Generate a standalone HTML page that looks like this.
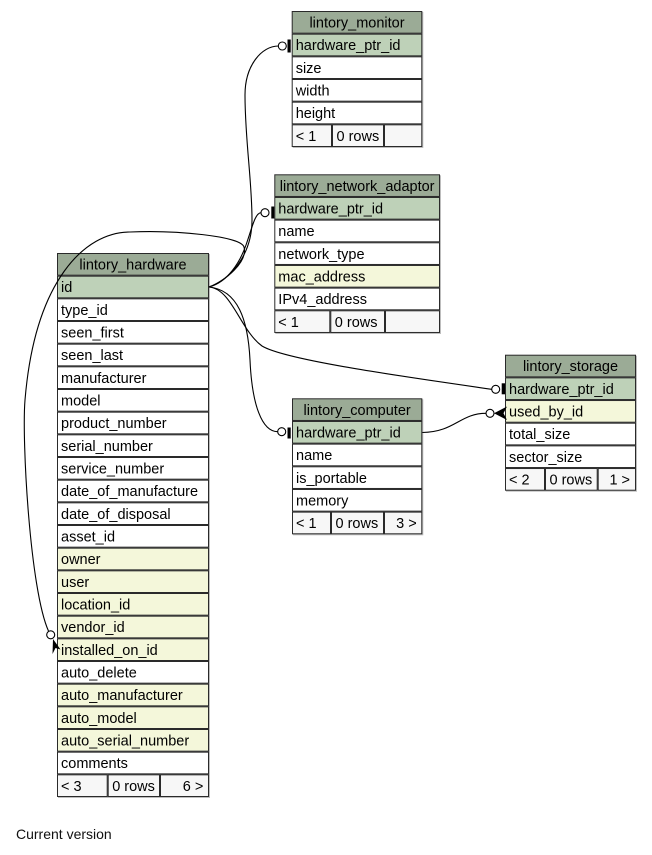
<!DOCTYPE html>
<html><head><meta charset="utf-8">
<style>
html,body{margin:0;padding:0;background:#fff;}
svg{display:block;}
.t{font-family:"Liberation Sans",Arial,Helvetica,sans-serif;font-size:14.5px;fill:#000;}
.c{stroke:#2a2a2a;stroke-width:1;}
.e{fill:none;stroke:#000;stroke-width:1.1;}
</style></head>
<body>
<svg width="652" height="855" viewBox="0 0 652 855" xmlns="http://www.w3.org/2000/svg">

<!-- lintory_hardware -->
<g transform="translate(57,253)">
<rect x="1" y="1" width="152" height="544" fill="#bdbdbd"/>
<rect class="c" x="0.5" y="0.5" width="151" height="21.67" fill="#9bab96"/>
<text class="t" x="76" y="16.5" text-anchor="middle">lintory_hardware</text>
<rect class="c" x="0.5" y="23.17" width="151" height="21.67" fill="#bed1b8"/><text class="t" x="4" y="39.17">id</text>
<rect class="c" x="0.5" y="45.83" width="151" height="21.67" fill="#fff"/><text class="t" x="4" y="61.83">type_id</text>
<rect class="c" x="0.5" y="68.5" width="151" height="21.67" fill="#fff"/><text class="t" x="4" y="84.5">seen_first</text>
<rect class="c" x="0.5" y="91.17" width="151" height="21.67" fill="#fff"/><text class="t" x="4" y="107.17">seen_last</text>
<rect class="c" x="0.5" y="113.83" width="151" height="21.67" fill="#fff"/><text class="t" x="4" y="129.83">manufacturer</text>
<rect class="c" x="0.5" y="136.5" width="151" height="21.67" fill="#fff"/><text class="t" x="4" y="152.5">model</text>
<rect class="c" x="0.5" y="159.17" width="151" height="21.67" fill="#fff"/><text class="t" x="4" y="175.17">product_number</text>
<rect class="c" x="0.5" y="181.83" width="151" height="21.67" fill="#fff"/><text class="t" x="4" y="197.83">serial_number</text>
<rect class="c" x="0.5" y="204.5" width="151" height="21.67" fill="#fff"/><text class="t" x="4" y="220.5">service_number</text>
<rect class="c" x="0.5" y="227.17" width="151" height="21.67" fill="#fff"/><text class="t" x="4" y="243.17">date_of_manufacture</text>
<rect class="c" x="0.5" y="249.83" width="151" height="21.67" fill="#fff"/><text class="t" x="4" y="265.83">date_of_disposal</text>
<rect class="c" x="0.5" y="272.5" width="151" height="21.67" fill="#fff"/><text class="t" x="4" y="288.5">asset_id</text>
<rect class="c" x="0.5" y="295.17" width="151" height="21.67" fill="#f4f7da"/><text class="t" x="4" y="311.17">owner</text>
<rect class="c" x="0.5" y="317.83" width="151" height="21.67" fill="#f4f7da"/><text class="t" x="4" y="333.83">user</text>
<rect class="c" x="0.5" y="340.5" width="151" height="21.67" fill="#f4f7da"/><text class="t" x="4" y="356.5">location_id</text>
<rect class="c" x="0.5" y="363.17" width="151" height="21.67" fill="#f4f7da"/><text class="t" x="4" y="379.17">vendor_id</text>
<rect class="c" x="0.5" y="385.83" width="151" height="21.67" fill="#f4f7da"/><text class="t" x="4" y="401.83">installed_on_id</text>
<rect class="c" x="0.5" y="408.5" width="151" height="21.67" fill="#fff"/><text class="t" x="4" y="424.5">auto_delete</text>
<rect class="c" x="0.5" y="431.17" width="151" height="21.67" fill="#f4f7da"/><text class="t" x="4" y="447.17">auto_manufacturer</text>
<rect class="c" x="0.5" y="453.83" width="151" height="21.67" fill="#f4f7da"/><text class="t" x="4" y="469.83">auto_model</text>
<rect class="c" x="0.5" y="476.5" width="151" height="21.67" fill="#f4f7da"/><text class="t" x="4" y="492.5">auto_serial_number</text>
<rect class="c" x="0.5" y="499.17" width="151" height="21.67" fill="#fff"/><text class="t" x="4" y="515.17">comments</text>
<rect class="c" x="0.5" y="521.83" width="49.7" height="21.67" fill="#f7f7f7"/>
<rect class="c" x="51.2" y="521.83" width="51.3" height="21.67" fill="#f7f7f7"/>
<rect class="c" x="103.5" y="521.83" width="48" height="21.67" fill="#f7f7f7"/>
<text class="t" x="4" y="537.83">&lt; 3</text>
<text class="t" x="55.2" y="537.83">0 rows</text>
<text class="t" x="146.3" y="537.83" text-anchor="end">6 &gt;</text>
</g>

<!-- lintory_monitor -->
<g transform="translate(291.7,11)">
<rect x="1" y="1" width="130.6" height="136" fill="#bdbdbd"/>
<rect class="c" x="0.5" y="0.5" width="129.6" height="21.67" fill="#9bab96"/>
<text class="t" x="65.3" y="16.5" text-anchor="middle">lintory_monitor</text>
<rect class="c" x="0.5" y="23.17" width="129.6" height="21.67" fill="#bed1b8"/><text class="t" x="4" y="39.17">hardware_ptr_id</text>
<rect class="c" x="0.5" y="45.83" width="129.6" height="21.67" fill="#fff"/><text class="t" x="4" y="61.83">size</text>
<rect class="c" x="0.5" y="68.5" width="129.6" height="21.67" fill="#fff"/><text class="t" x="4" y="84.5">width</text>
<rect class="c" x="0.5" y="91.17" width="129.6" height="21.67" fill="#fff"/><text class="t" x="4" y="107.17">height</text>
<rect class="c" x="0.5" y="113.83" width="39.3" height="21.67" fill="#f7f7f7"/>
<rect class="c" x="40.8" y="113.83" width="51" height="21.67" fill="#f7f7f7"/>
<rect class="c" x="92.8" y="113.83" width="37.3" height="21.67" fill="#f7f7f7"/>
<text class="t" x="4" y="129.83">&lt; 1</text>
<text class="t" x="44.8" y="129.83">0 rows</text>
</g>

<!-- lintory_network_adaptor -->
<g transform="translate(274.3,174.3)">
<rect x="1" y="1" width="165.7" height="158.67" fill="#bdbdbd"/>
<rect class="c" x="0.5" y="0.5" width="164.7" height="21.67" fill="#9bab96"/>
<text class="t" x="82.85" y="16.5" text-anchor="middle">lintory_network_adaptor</text>
<rect class="c" x="0.5" y="23.17" width="164.7" height="21.67" fill="#bed1b8"/><text class="t" x="4" y="39.17">hardware_ptr_id</text>
<rect class="c" x="0.5" y="45.83" width="164.7" height="21.67" fill="#fff"/><text class="t" x="4" y="61.83">name</text>
<rect class="c" x="0.5" y="68.5" width="164.7" height="21.67" fill="#fff"/><text class="t" x="4" y="84.5">network_type</text>
<rect class="c" x="0.5" y="91.17" width="164.7" height="21.67" fill="#f4f7da"/><text class="t" x="4" y="107.17">mac_address</text>
<rect class="c" x="0.5" y="113.83" width="164.7" height="21.67" fill="#fff"/><text class="t" x="4" y="129.83">IPv4_address</text>
<rect class="c" x="0.5" y="136.5" width="55" height="21.67" fill="#f7f7f7"/>
<rect class="c" x="56.5" y="136.5" width="53.7" height="21.67" fill="#f7f7f7"/>
<rect class="c" x="111.2" y="136.5" width="54" height="21.67" fill="#f7f7f7"/>
<text class="t" x="4" y="152.5">&lt; 1</text>
<text class="t" x="60.5" y="152.5">0 rows</text>
</g>

<!-- lintory_storage -->
<g transform="translate(505,354.7)">
<rect x="1" y="1" width="131" height="136" fill="#bdbdbd"/>
<rect class="c" x="0.5" y="0.5" width="130" height="21.67" fill="#9bab96"/>
<text class="t" x="65.5" y="16.5" text-anchor="middle">lintory_storage</text>
<rect class="c" x="0.5" y="23.17" width="130" height="21.67" fill="#bed1b8"/><text class="t" x="4" y="39.17">hardware_ptr_id</text>
<rect class="c" x="0.5" y="45.83" width="130" height="21.67" fill="#f4f7da"/><text class="t" x="4" y="61.83">used_by_id</text>
<rect class="c" x="0.5" y="68.5" width="130" height="21.67" fill="#fff"/><text class="t" x="4" y="84.5">total_size</text>
<rect class="c" x="0.5" y="91.17" width="130" height="21.67" fill="#fff"/><text class="t" x="4" y="107.17">sector_size</text>
<rect class="c" x="0.5" y="113.83" width="39" height="21.67" fill="#f7f7f7"/>
<rect class="c" x="40.5" y="113.83" width="51.7" height="21.67" fill="#f7f7f7"/>
<rect class="c" x="93.2" y="113.83" width="37.3" height="21.67" fill="#f7f7f7"/>
<text class="t" x="4" y="129.83">&lt; 2</text>
<text class="t" x="44.5" y="129.83">0 rows</text>
<text class="t" x="125" y="129.83" text-anchor="end">1 &gt;</text>
</g>

<!-- lintory_computer -->
<g transform="translate(292,398.3)">
<rect x="1" y="1" width="130.3" height="136" fill="#bdbdbd"/>
<rect class="c" x="0.5" y="0.5" width="129.3" height="21.67" fill="#9bab96"/>
<text class="t" x="65.15" y="16.5" text-anchor="middle">lintory_computer</text>
<rect class="c" x="0.5" y="23.17" width="129.3" height="21.67" fill="#bed1b8"/><text class="t" x="4" y="39.17">hardware_ptr_id</text>
<rect class="c" x="0.5" y="45.83" width="129.3" height="21.67" fill="#fff"/><text class="t" x="4" y="61.83">name</text>
<rect class="c" x="0.5" y="68.5" width="129.3" height="21.67" fill="#fff"/><text class="t" x="4" y="84.5">is_portable</text>
<rect class="c" x="0.5" y="91.17" width="129.3" height="21.67" fill="#fff"/><text class="t" x="4" y="107.17">memory</text>
<rect class="c" x="0.5" y="113.83" width="38" height="21.67" fill="#f7f7f7"/>
<rect class="c" x="39.5" y="113.83" width="52" height="21.67" fill="#f7f7f7"/>
<rect class="c" x="92.5" y="113.83" width="37.3" height="21.67" fill="#f7f7f7"/>
<text class="t" x="4" y="129.83">&lt; 1</text>
<text class="t" x="43.5" y="129.83">0 rows</text>
<text class="t" x="124.7" y="129.83" text-anchor="end">3 &gt;</text>
</g>

<!-- connectors -->
<!-- hardware.id -> monitor -->
<path class="e" d="M209,287 C230,280 252,255 252,220 C252,180 245,140 245,95 C245,65 262,46 278.3,46"/>
<circle cx="282.3" cy="46" r="4" fill="#fff" stroke="#000" stroke-width="1.1"/>
<rect x="287.5" y="39.5" width="3.2" height="13" fill="#000"/>

<!-- hardware.id -> network adaptor -->
<path class="e" d="M209,287 C228,282 240,262 246,245 C252,228 255,213 261,212.7"/>
<circle cx="265" cy="212.7" r="4" fill="#fff" stroke="#000" stroke-width="1.1"/>
<rect x="271.3" y="206.5" width="3" height="12" fill="#000"/>

<!-- self loop hardware.id -> installed_on_id -->
<path class="e" d="M209,287 C225,281 248,262 244,247 C241,236 175,230 130,232 C85,232 35,280 25,400 C21.7,440 30,590 48.5,631"/>
<circle cx="50.7" cy="634.8" r="4" fill="#fff" stroke="#000" stroke-width="1.1"/>
<polygon points="53,639 52.5,654 55.5,648 60.5,649.5" fill="#000"/>

<!-- hardware.id -> storage.hardware_ptr_id -->
<path class="e" d="M209,287 C232,289 240,330 262,346 C285,360 400,376 491.7,389.3"/>
<circle cx="495.7" cy="389.3" r="4" fill="#fff" stroke="#000" stroke-width="1.1"/>
<rect x="501.7" y="383.3" width="3.3" height="11" fill="#000"/>

<!-- hardware.id -> computer.hardware_ptr_id -->
<path class="e" d="M209,287 C238,290 248,320 250,360 C252,405 262,431.7 277.7,431.7"/>
<circle cx="281.7" cy="431.7" r="4" fill="#fff" stroke="#000" stroke-width="1.1"/>
<rect x="287.5" y="427.5" width="3.2" height="11" fill="#000"/>

<!-- computer.hardware_ptr_id -> storage.used_by_id -->
<path class="e" d="M422.3,432.5 C455,432 460,413.3 486,413.3"/>
<circle cx="490" cy="413.3" r="4" fill="#fff" stroke="#000" stroke-width="1.1"/>
<polygon points="494,413.3 507,406.5 503.5,413.3 507,420" fill="#000"/>

<text x="16" y="839" style="font-family:'Liberation Sans',Arial,sans-serif;font-size:14px;fill:#111;">Current version</text>
</svg>
</body></html>
